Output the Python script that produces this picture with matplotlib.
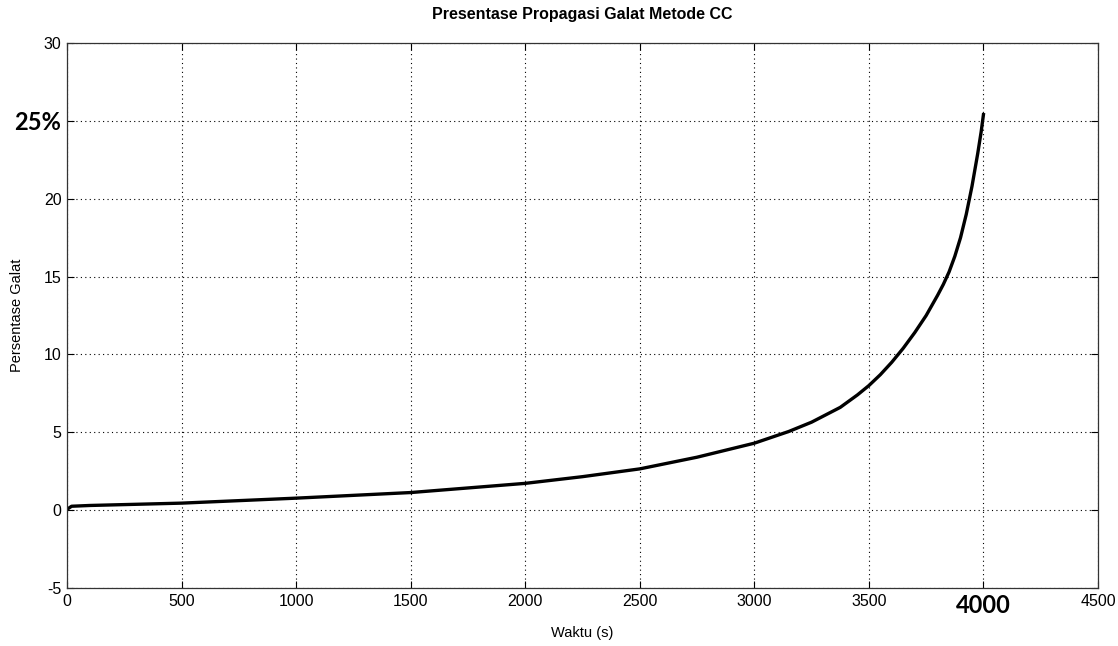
import matplotlib
matplotlib.use("Agg")
import matplotlib.pyplot as plt

# Data
waktu = [0, 20, 100, 500, 1000, 1500, 2000, 2250, 2500, 2750, 3000, 3150, 3250, 3375,
         3450, 3500, 3550, 3600, 3650, 3700, 3750, 3800, 3825, 3850, 3875, 3900,
         3925, 3950, 3975, 3990, 4000]
galat = [0.05, 0.25, 0.3, 0.45, 0.77, 1.13, 1.72, 2.15, 2.65, 3.4, 4.3, 5.05, 5.65, 6.6,
         7.4, 8.0, 8.7, 9.5, 10.4, 11.4, 12.5, 13.8, 14.5, 15.3, 16.3, 17.5,
         19.0, 20.8, 22.9, 24.3, 25.4]

xticks = [0, 500, 1000, 1500, 2000, 2500, 3000, 3500, 4000, 4500]
xtick_labels = ["0", "500", "1000", "1500", "2000", "2500", "3000", "3500", "4000", "4500"]
yticks = [-5, 0, 5, 10, 15, 20, 25, 30]
ytick_labels = ["-5", "0", "5", "10", "15", "20", "25%", "30"]
highlight_x = "4000"
highlight_y = "25%"

plt.rcParams['font.family'] = ['Liberation Sans', 'DejaVu Sans']

fig = plt.figure(figsize=(11.18, 6.46), dpi=100)
ax = fig.add_axes([67/1118, 58/646, (1098-67)/1118, (588-43)/646])

ax.plot(waktu, galat, color='black', linewidth=2.4, solid_joinstyle='round')

ax.set_xlim(0, 4500)
ax.set_ylim(-5, 30)
ax.set_xticks(xticks)
ax.set_yticks(yticks)
ax.set_xticklabels(xtick_labels, fontsize=11.5)
ax.set_yticklabels(ytick_labels, fontsize=11.5)

for lab in ax.get_xticklabels():
    if lab.get_text() == highlight_x:
        lab.set_fontfamily(['Lato', 'DejaVu Sans'])
        lab.set_fontweight('bold')
        lab.set_fontsize(17)
for lab in ax.get_yticklabels():
    if lab.get_text() == highlight_y:
        lab.set_fontfamily(['Lato', 'DejaVu Sans'])
        lab.set_fontweight('bold')
        lab.set_fontsize(17)

ax.tick_params(direction='in', length=5, width=0.8, top=True, right=True, pad=4,
               colors='black')
ax.grid(True, linestyle=(0, (1, 3)), color='black', linewidth=0.8)
for s in ax.spines.values():
    s.set_color('#333333')
    s.set_linewidth(0.9)

fig.text(582/1118, 1 - 14/646, "Presentase Propagasi Galat Metode CC", fontsize=11.5,
         fontweight='bold', ha='center', va='center')
ax.set_xlabel("Waktu (s)", fontsize=10.5)
ax.set_ylabel("Persentase Galat", fontsize=10.5)
ax.xaxis.set_label_coords(0.5, -0.0826)
ax.yaxis.set_label_coords(-0.0485, 0.5)
ax.xaxis.label.set_va('center')
ax.yaxis.label.set_va('center')

fig.savefig("out.png", dpi=100, facecolor='white')
